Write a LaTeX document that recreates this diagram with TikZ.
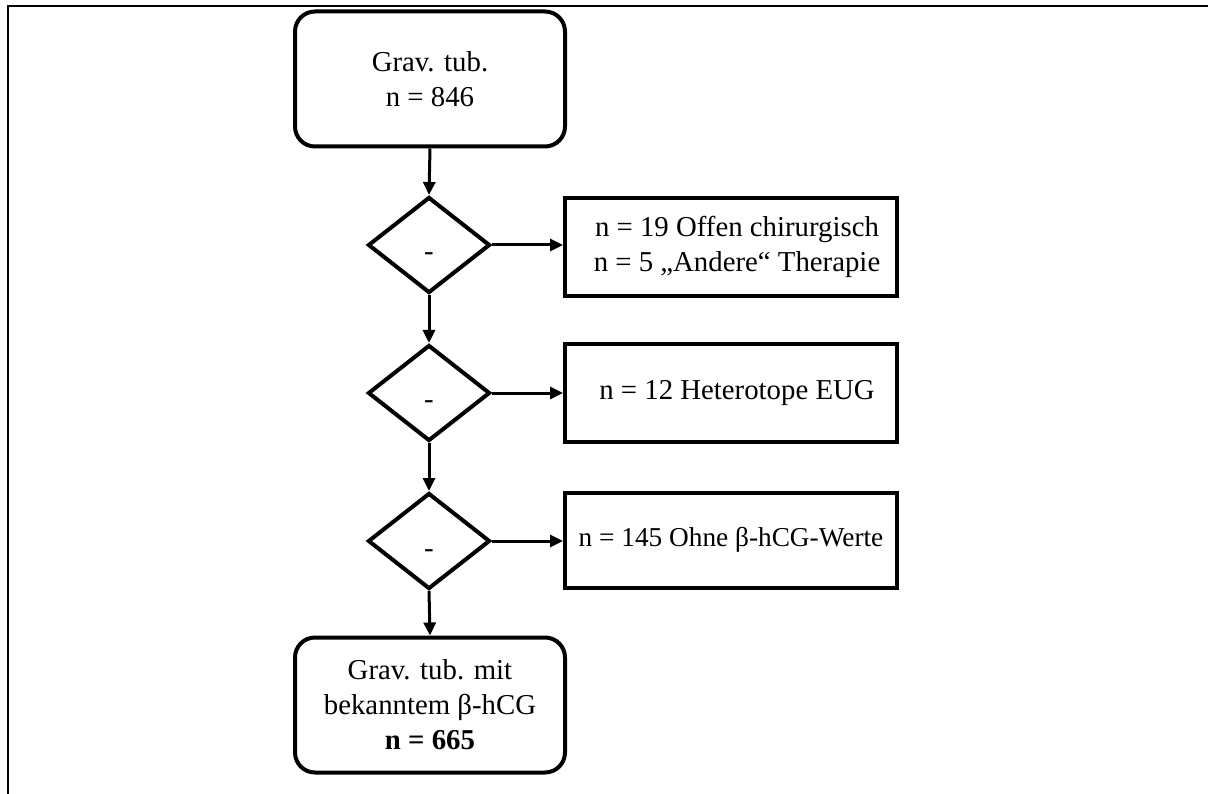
\documentclass[tikz,border=0pt]{standalone}
\usepackage{fontspec}
\setmainfont{Liberation Serif}
\usetikzlibrary{shapes.geometric,arrows.meta}
\tikzset{
  basefont/.style={font=\fontsize{28.8}{35}\selectfont},
  roundbox/.style={basefont,draw,line width=4pt,rounded corners=20pt,minimum width=270pt,minimum height=135pt,align=center,inner sep=0pt},
  sidebox/.style={basefont,draw,line width=4pt,minimum width=332pt,align=center,inner sep=0pt},
  decision/.style={draw,diamond,line width=4pt,minimum width=122pt,minimum height=96pt,inner sep=0pt,aspect=1.27},
  dash label/.style={basefont,anchor=base,inner sep=0pt},
  conn/.style={line width=3pt,-{Triangle[length=13pt,width=12pt]}},
  frameline/.style={line width=2pt}
}
\begin{document}
\begin{tikzpicture}[x=1pt,y=-1pt]
\useasboundingbox (0,0) rectangle (1208,794);
\draw[frameline] (8,794) -- (8,6) -- (1208,6);
\node[roundbox] (top) at (430,79) {Grav. tub.\\n = 846};
\node[decision] (d1) at (429,245) {};
\node[decision] (d2) at (429,393) {};
\node[decision] (d3) at (429,541) {};
\node[dash label] (t1) at (429,261) {-};
\node[dash label] (t2) at (429,409) {-};
\node[dash label] (t3) at (429,557) {-};
\node[sidebox,minimum height=98pt] (b1) at (731,247) {\hspace*{12pt}n = 19 Offen chirurgisch\\\hspace*{12pt}n = 5 „Andere“ Therapie};
\node[sidebox,minimum height=97pt] (b2) at (731,393) {\hspace*{12pt}n = 12 Heterotope EUG};
\node[sidebox,minimum height=95pt] (b3) at (731,540) {\fontsize{27.3}{33}\selectfont n = 145 Ohne β-hCG-Werte};
\node[roundbox] (bot) at (430,705) {Grav. tub. mit\\bekanntem β-hCG\\\textbf{n = 665}};
\draw[conn] (top.south) -- (d1.north);
\draw[conn] (d1.south) -- (d2.north);
\draw[conn] (d2.south) -- (d3.north);
\draw[conn] (d3.south) -- (bot.north);
\draw[conn] (d1.east) -- (b1.west |- d1.east);
\draw[conn] (d2.east) -- (b2.west |- d2.east);
\draw[conn] (d3.east) -- (b3.west |- d3.east);
\end{tikzpicture}
\end{document}
